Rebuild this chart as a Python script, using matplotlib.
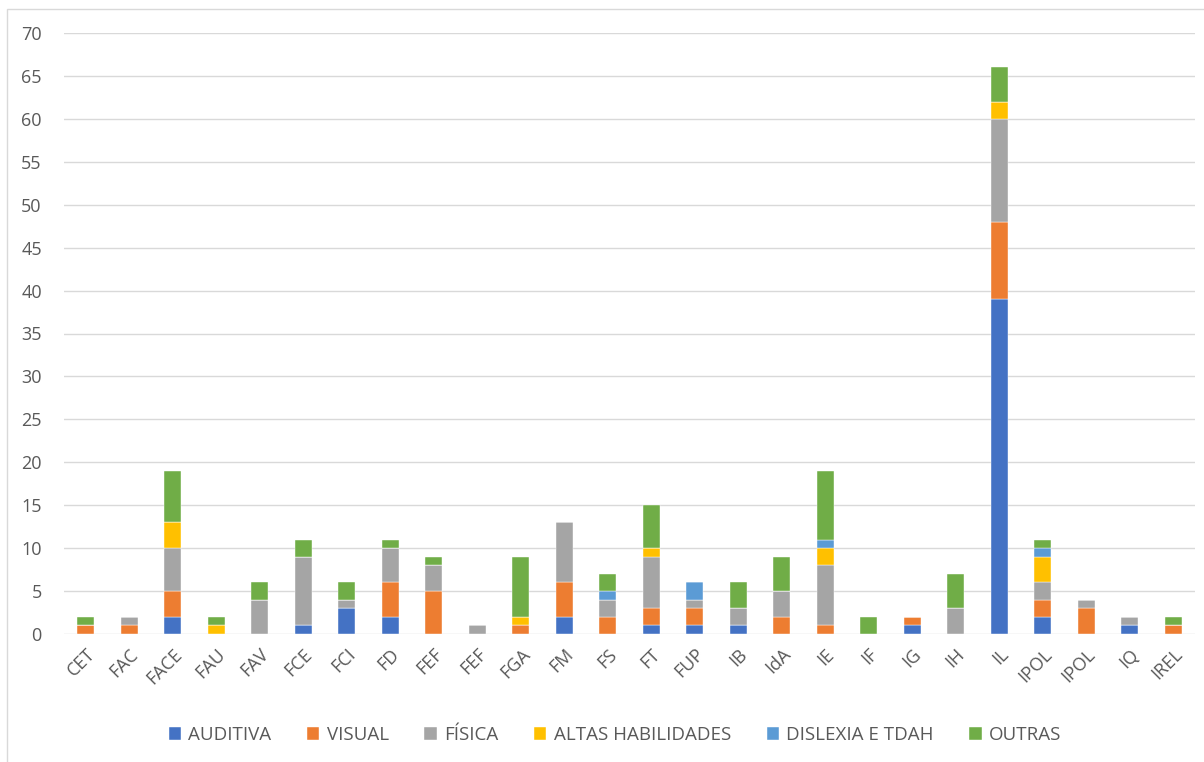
import matplotlib
matplotlib.use("Agg")
import matplotlib.pyplot as plt
from matplotlib.patches import Rectangle
import numpy as np

categories = ["CET", "FAC", "FACE", "FAU", "FAV", "FCE", "FCI", "FD", "FEF", "FEF",
              "FGA", "FM", "FS", "FT", "FUP", "IB", "IdA", "IE", "IF", "IG",
              "IH", "IL", "IPOL", "IPOL", "IQ", "IREL"]
auditiva = [0, 0, 2, 0, 0, 1, 3, 2, 0, 0, 0, 2, 0, 1, 1, 1, 0, 0, 0, 1, 0, 39, 2, 0, 1, 0]
visual   = [1, 1, 3, 0, 0, 0, 0, 4, 5, 0, 1, 4, 2, 2, 2, 0, 2, 1, 0, 1, 0, 9, 2, 3, 0, 1]
fisica   = [0, 1, 5, 0, 4, 8, 1, 4, 3, 1, 0, 7, 2, 6, 1, 2, 3, 7, 0, 0, 3, 12, 2, 1, 1, 0]
altas    = [0, 0, 3, 1, 0, 0, 0, 0, 0, 0, 1, 0, 0, 1, 0, 0, 0, 2, 0, 0, 0, 2, 3, 0, 0, 0]
dislexia = [0, 0, 0, 0, 0, 0, 0, 0, 0, 0, 0, 0, 1, 0, 2, 0, 0, 1, 0, 0, 0, 0, 1, 0, 0, 0]
outras   = [1, 0, 6, 1, 2, 2, 2, 1, 1, 0, 7, 0, 2, 5, 0, 3, 4, 8, 2, 0, 4, 4, 1, 0, 0, 1]

series_names = ["AUDITIVA", "VISUAL", "FÍSICA", "ALTAS HABILIDADES", "DISLEXIA E TDAH", "OUTRAS"]
series = [auditiva, visual, fisica, altas, dislexia, outras]
colors = ["#4472C4", "#ED7D31", "#A5A5A5", "#FFC000", "#5B9BD5", "#70AD47"]

plt.rcParams['font.family'] = ['Open Sans', 'DejaVu Sans']

fig = plt.figure(figsize=(12.04, 7.62), dpi=100)
ax = fig.add_axes([64/1204, 1-634/762, (1195-64)/1204, (634-33)/762])

x = np.arange(len(categories))
bottom = np.zeros(len(categories))
for name, vals, c in zip(series_names, series, colors):
    v = np.array(vals, dtype=float)
    ax.bar(x, v, width=0.39, bottom=bottom, color=c, label=name, zorder=3,
           edgecolor='white', linewidth=0.3)
    bottom += v

ax.set_xlim(-0.5, len(categories) - 0.5)
ax.set_ylim(0, 70)
ax.set_yticks(np.arange(0, 71, 5))
ax.yaxis.grid(True, color="#D9D9D9", linewidth=1, zorder=0)
ax.set_axisbelow(True)
for s in ax.spines.values():
    s.set_visible(False)
ax.tick_params(axis='both', length=0, colors="#595959", labelsize=13)
ax.tick_params(axis='y', pad=16)
ax.set_xticks(x)
ax.set_xticklabels(categories, rotation=45, ha='right', rotation_mode='anchor')
ax.tick_params(axis='x', pad=8)

leg = fig.legend(loc='center', bbox_to_anchor=(615/1204, 1-735/762), ncol=6,
                 frameon=False, fontsize=13.5, handlelength=0.65, handleheight=0.65,
                 columnspacing=1.9, handletextpad=0.4)
for t in leg.get_texts():
    t.set_color("#595959")

fig.patches.append(Rectangle((7/1204, -0.01), 1.05, 1 - 9/762 + 0.01, transform=fig.transFigure,
                             fill=False, edgecolor="#D9D9D9", linewidth=1))

fig.savefig("out.png", dpi=100, facecolor="white")
